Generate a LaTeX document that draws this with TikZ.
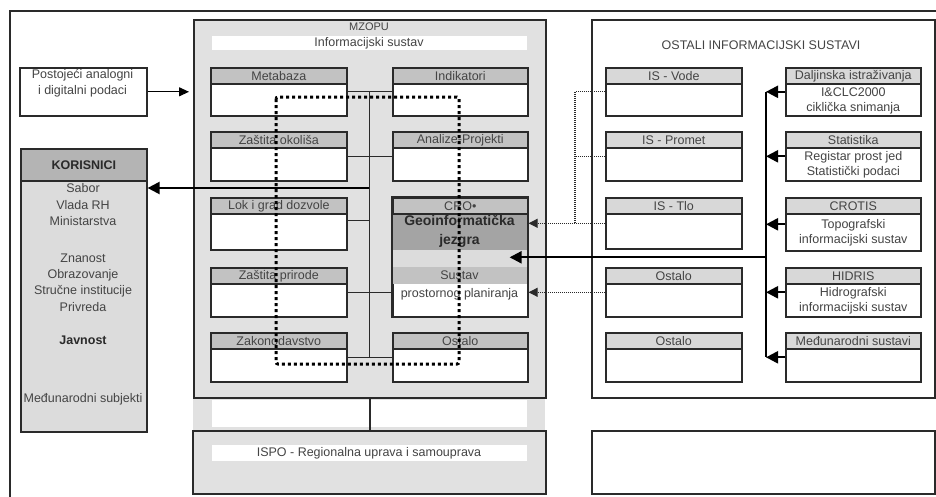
\documentclass[tikz,border=0pt]{standalone}
\usepackage{fontspec}
\setmainfont{Liberation Sans}
\usetikzlibrary{arrows.meta,calc}
\definecolor{ink}{HTML}{2A2A2A}
\definecolor{txt}{HTML}{444444}
\definecolor{mzgray}{HTML}{E1E1E1}
\definecolor{hdrgray}{HTML}{C2C2C2}
\definecolor{hdrlight}{HTML}{D8D8D8}
\definecolor{korhdr}{HTML}{B4B4B4}
\definecolor{korbody}{HTML}{DCDCDC}
\definecolor{geogray}{HTML}{A4A4A4}
\definecolor{croband}{HTML}{DCDCDC}
\definecolor{ispogray}{HTML}{E1E1E1}
\tikzset{
  frameline/.style={draw=ink, line width=1.6pt},
  bodybox/.style={frameline, fill=white, inner sep=0pt, anchor=north west},
  hdrbox/.style={frameline, minimum height=16pt, inner sep=0pt, anchor=north west, text=txt, font=\fontsize{12.5}{14}\selectfont},
  bodytext/.style={align=center, text=txt, font=\fontsize{12.5}{15}\selectfont, inner sep=0pt},
  plaintext/.style={align=center, text=txt, font=\fontsize{12.5}{16.5}\selectfont, inner sep=0pt},
  busline/.style={draw=ink, line width=1.1pt},
  thickarrow/.style={draw=black, line width=2.2pt, -{Triangle[length=12pt,width=12pt]}},
  thinarrow/.style={draw=black, line width=1.1pt, -{Triangle[length=10pt,width=9pt]}},
  dotline/.style={draw=ink, line width=1.1pt, dash pattern=on 1pt off 1pt},
  dotarrow/.style={dotline, -{Triangle[length=9pt,width=9pt]}},
  bigdots/.style={draw=black, line width=3pt, dash pattern=on 3pt off 3pt, rounded corners=2pt},
}
\newcommand{\mkbox}[8]{%
  \node[bodybox, minimum width=#4pt, minimum height=#5pt] (#1) at (#2,#3) {};
  \node[hdrbox, fill=#6, minimum width=#4pt] (#1-h) at (#2,#3) {#7};
  \node[bodytext] (#1-t) at ($(#1-h.south)!0.5!(#1.south)$) {#8};
}
\begin{document}
\begin{tikzpicture}[x=1pt,y=-1pt]
\useasboundingbox (0,0) rectangle (936,496);
\fill[white] (0,0) rectangle (936,496);
\begin{scope}
\clip (0,0) rectangle (936,496);
% outer frame
\draw[ink, line width=1.2pt] (10,500) -- (10,11) -- (940,11);

% ---------- left column ----------
\node[bodybox, minimum width=127pt, minimum height=48pt] (post) at (19,67) {};
\node[plaintext, font=\fontsize{12.5}{16}\selectfont] (post-t) at (82.5,83) {Postojeći analogni\\i digitalni podaci};

\node[bodybox, fill=korbody, minimum width=126pt, minimum height=283pt] (kor) at (20,148) {};
\node[hdrbox, fill=korhdr, minimum width=126pt, minimum height=32pt, text=ink, font=\fontsize{12.5}{14}\selectfont\bfseries] (kor-h) at (20,148) {KORISNICI};
\node[plaintext] (kor-a) at (83,205) {Sabor\\Vlada RH\\Ministarstva};
\node[plaintext, font=\fontsize{12.5}{16.3}\selectfont] (kor-b) at (83,282.5) {Znanost\\Obrazovanje\\Stručne institucije\\Privreda};
\node[plaintext, text=ink, font=\fontsize{12.5}{14}\selectfont\bfseries] (kor-c) at (83,340) {Javnost};
\node[plaintext] (kor-d) at (83,399) {Međunarodni subjekti};

% ---------- MZOPU ----------
\fill[mzgray] (193,19) rectangle (545,430);
\fill[white] (212,400) rectangle (527,427);
\node[frameline, fill=mzgray, minimum width=352pt, minimum height=378pt, anchor=north west, inner sep=0pt] (mzopu) at (193,19) {};
\node[plaintext, font=\fontsize{11}{12}\selectfont] (mz-t) at (369,27) {MZOPU};
\fill[white] (212,36) rectangle (527,50);
\node[plaintext] (mz-is) at (369,43) {Informacijski sustav};

\mkbox{meta}{210}{67}{136}{48}{hdrgray}{Metabaza}{}
\mkbox{zok}{210}{131}{136}{49}{hdrgray}{Zaštita okoliša}{}
\mkbox{lok}{210}{197}{136}{52}{hdrgray}{Lok i grad  dozvole}{}
\mkbox{zpr}{210}{267}{136}{49}{hdrgray}{Zaštita prirode}{}
\mkbox{zak}{210}{332}{136}{49}{hdrgray}{Zakonodavstvo}{}
\mkbox{ind}{392}{67}{135}{48}{hdrgray}{Indikatori}{}
\mkbox{ana}{392}{131}{135}{49}{hdrgray}{Analize-Projekti}{}
\mkbox{ost}{392}{332}{135}{49}{hdrgray}{Ostalo}{}

% CRO box
\node[bodybox, minimum width=135pt, minimum height=119pt] (cro) at (392,197) {};
\fill[geogray] (392,213) rectangle (527,250);
\fill[croband] (392,250) rectangle (527,267);
\fill[hdrgray] (392,267) rectangle (527,284);
\draw[frameline] (cro.north west) rectangle (cro.south east);
\node[hdrbox, fill=hdrgray, minimum width=135pt] (cro-h) at (392,197) {CRO•};
\node[plaintext, text=ink, font=\fontsize{14}{19}\selectfont\bfseries] (cro-geo) at (459.5,231.5) {Geoinformatička\\jezgra};
\node[plaintext] (cro-s) at (459.5,275) {Sustav};
\node[plaintext] (cro-p) at (459.5,294) {prostornog planiranja};

% internal bus
\coordinate (bustop) at ($(meta.east)!0.5!(ind.west)$);
\coordinate (busbot) at ($(zak.east)!0.5!(ost.west)$);
\draw[busline] (bustop) -- (busbot);
\draw[busline] (meta.east) -- (ind.west);
\draw[busline] (zok.east) -- (ana.west);
\draw[busline] ([yshift=3pt]lok.east) -- ([yshift=3pt]lok.east -| bustop);
\draw[busline] (zpr.east) -- (zpr.east -| cro.west);
\draw[busline] (zak.east) -- (ost.west);

% arrows to/from left
\draw[thinarrow, shorten >=4pt] (post.east) -- (post.east -| mzopu.west);
\coordinate (kA) at (369,188);
\draw[thickarrow] (kA) -- (kA -| kor.east);

% ISPO
\node[frameline, fill=ispogray, minimum width=353pt, minimum height=63pt, anchor=north west, inner sep=0pt] (ispo) at (192,430) {};
\fill[white] (212,445) rectangle (527,461);
\node[plaintext] (ispo-t) at (369,453) {ISPO - Regionalna uprava i samouprava};
\draw[ink, line width=1.6pt] (mzopu.south -| bustop) -- (ispo.north -| bustop);

% ---------- OSTALI ----------
\node[bodybox, minimum width=343pt, minimum height=378pt] (ostali) at (591,19) {};
\node[plaintext] (ostali-t) at (761,45) {OSTALI INFORMACIJSKI SUSTAVI};

\mkbox{isv}{605}{67}{136}{48}{hdrlight}{IS - Vode}{}
\mkbox{isp}{605}{131}{136}{49}{hdrlight}{IS - Promet}{}
\mkbox{ist}{605}{197}{136}{51}{hdrlight}{IS - Tlo}{}
\mkbox{os1}{605}{267}{136}{49}{hdrlight}{Ostalo}{}
\mkbox{os2}{605}{332}{136}{49}{hdrlight}{Ostalo}{}

\mkbox{dal}{785}{67}{135}{48}{hdrlight}{Daljinska istraživanja}{I\&CLC2000\\ciklička snimanja}
\mkbox{sta}{785}{131}{135}{49}{hdrlight}{Statistika}{Registar prost  jed\\Statistički podaci}
\mkbox{cts}{785}{197}{135}{53}{hdrlight}{CROTIS}{Topografski\\informacijski sustav}
\mkbox{hid}{785}{267}{135}{49}{hdrlight}{HIDRIS}{Hidrografski\\informacijski sustav}
\mkbox{med}{785}{332}{135}{49}{hdrlight}{Međunarodni sustavi}{}

\node[bodybox, minimum width=343pt, minimum height=63pt] (empty) at (591,430) {};

% right bus
\coordinate (rbus) at (766,0);
\draw[black, line width=2.2pt] (dal.west -| rbus) -- (med.west -| rbus);
\foreach \b in {dal,sta,cts,hid,med}{
  \draw[thickarrow] (\b.west) -- (\b.west -| rbus);
}
\draw[thickarrow] (rbus |- cro.east) -- ([xshift=-19pt]cro.east);

% dotted links
\coordinate (dbus) at (575,0);
\draw[dotline] (isv.west) -- (isv.west -| dbus) -- (ist.west -| dbus);
\draw[dotline] (isp.west) -- (isp.west -| dbus);
\draw[dotarrow] (ist.west) -- (ist.west -| cro.east);
\draw[dotarrow] (os1.west) -- (os1.west -| cro.east);

% big dotted loop
\draw[bigdots] (276,97) rectangle (459,364);
\end{scope}
\end{tikzpicture}
\end{document}
